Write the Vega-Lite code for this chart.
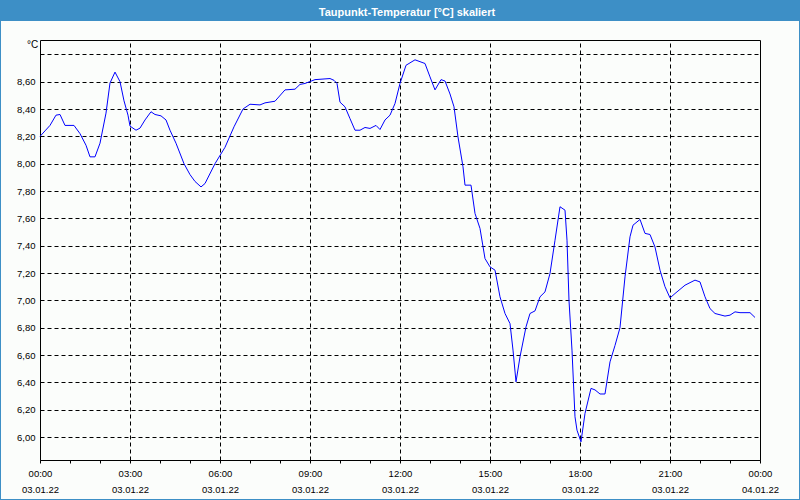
{
  "$schema": "https://vega.github.io/schema/vega-lite/v6.json",
  "width": 798,
  "height": 478,
  "autosize": {"type": "none"},
  "padding": {"left": 1, "right": 1, "top": 21, "bottom": 1},
  "background": "#3d8fc6",
  "title": {"text": "Taupunkt-Temperatur [°C] skaliert", "color": "#ffffff", "fontSize": 11, "font": "Liberation Sans", "fontWeight": "bold", "anchor": "middle", "offset": 3, "dx": 7},
  "config": {"view": {"fill": "#fbfdfb", "stroke": null}},
  "data": {"values": [
    {"h": 0, "v": 8.20}, {"h": 0.167, "v": 8.24}, {"h": 0.333, "v": 8.28}, {"h": 0.533, "v": 8.355},
    {"h": 0.667, "v": 8.36}, {"h": 0.833, "v": 8.28}, {"h": 1.133, "v": 8.28}, {"h": 1.333, "v": 8.22},
    {"h": 1.533, "v": 8.135}, {"h": 1.667, "v": 8.05}, {"h": 1.833, "v": 8.05}, {"h": 2.0, "v": 8.15},
    {"h": 2.2, "v": 8.37}, {"h": 2.333, "v": 8.59}, {"h": 2.5, "v": 8.67}, {"h": 2.667, "v": 8.60},
    {"h": 2.8, "v": 8.46}, {"h": 2.933, "v": 8.355}, {"h": 3.0, "v": 8.275}, {"h": 3.2, "v": 8.245},
    {"h": 3.333, "v": 8.26}, {"h": 3.5, "v": 8.32}, {"h": 3.7, "v": 8.38}, {"h": 3.833, "v": 8.36},
    {"h": 4.033, "v": 8.35}, {"h": 4.2, "v": 8.32}, {"h": 4.333, "v": 8.245}, {"h": 4.533, "v": 8.15},
    {"h": 4.8, "v": 8.00}, {"h": 5.0, "v": 7.92}, {"h": 5.167, "v": 7.87}, {"h": 5.367, "v": 7.83},
    {"h": 5.5, "v": 7.855}, {"h": 5.833, "v": 8.00}, {"h": 6.167, "v": 8.12}, {"h": 6.467, "v": 8.27},
    {"h": 6.767, "v": 8.40}, {"h": 7.0, "v": 8.435}, {"h": 7.333, "v": 8.43}, {"h": 7.5, "v": 8.445},
    {"h": 7.833, "v": 8.457}, {"h": 8.167, "v": 8.54}, {"h": 8.5, "v": 8.545}, {"h": 8.667, "v": 8.58},
    {"h": 8.833, "v": 8.587}, {"h": 9.167, "v": 8.615}, {"h": 9.667, "v": 8.623}, {"h": 9.8, "v": 8.61},
    {"h": 9.9, "v": 8.587}, {"h": 10.0, "v": 8.45}, {"h": 10.167, "v": 8.416}, {"h": 10.333, "v": 8.33},
    {"h": 10.5, "v": 8.245}, {"h": 10.667, "v": 8.245}, {"h": 10.833, "v": 8.265}, {"h": 11.0, "v": 8.258},
    {"h": 11.2, "v": 8.28}, {"h": 11.333, "v": 8.25}, {"h": 11.5, "v": 8.32}, {"h": 11.667, "v": 8.355},
    {"h": 11.833, "v": 8.44}, {"h": 12.0, "v": 8.587}, {"h": 12.2, "v": 8.72}, {"h": 12.5, "v": 8.76},
    {"h": 12.833, "v": 8.733}, {"h": 13.0, "v": 8.635}, {"h": 13.167, "v": 8.54}, {"h": 13.367, "v": 8.615},
    {"h": 13.5, "v": 8.605}, {"h": 13.667, "v": 8.51}, {"h": 13.8, "v": 8.416}, {"h": 13.933, "v": 8.196},
    {"h": 14.1, "v": 7.977}, {"h": 14.167, "v": 7.843}, {"h": 14.367, "v": 7.843}, {"h": 14.5, "v": 7.636},
    {"h": 14.667, "v": 7.526}, {"h": 14.833, "v": 7.306}, {"h": 15.0, "v": 7.245}, {"h": 15.167, "v": 7.221},
    {"h": 15.333, "v": 7.026}, {"h": 15.5, "v": 6.904}, {"h": 15.667, "v": 6.83}, {"h": 15.767, "v": 6.636},
    {"h": 15.867, "v": 6.404}, {"h": 16.0, "v": 6.587}, {"h": 16.2, "v": 6.806}, {"h": 16.333, "v": 6.904},
    {"h": 16.5, "v": 6.923}, {"h": 16.667, "v": 7.026}, {"h": 16.833, "v": 7.062}, {"h": 17.0, "v": 7.197},
    {"h": 17.167, "v": 7.44}, {"h": 17.333, "v": 7.685}, {"h": 17.5, "v": 7.66}, {"h": 17.567, "v": 7.44},
    {"h": 17.633, "v": 7.00}, {"h": 17.733, "v": 6.636}, {"h": 17.833, "v": 6.148}, {"h": 17.9, "v": 6.05},
    {"h": 18.033, "v": 5.965}, {"h": 18.167, "v": 6.173}, {"h": 18.367, "v": 6.356}, {"h": 18.5, "v": 6.345},
    {"h": 18.667, "v": 6.315}, {"h": 18.833, "v": 6.315}, {"h": 19.0, "v": 6.55}, {"h": 19.167, "v": 6.67},
    {"h": 19.333, "v": 6.80}, {"h": 19.5, "v": 7.172}, {"h": 19.667, "v": 7.465}, {"h": 19.767, "v": 7.55},
    {"h": 20.0, "v": 7.592}, {"h": 20.167, "v": 7.49}, {"h": 20.333, "v": 7.482}, {"h": 20.5, "v": 7.39},
    {"h": 20.667, "v": 7.221}, {"h": 20.833, "v": 7.10}, {"h": 21.0, "v": 7.018}, {"h": 21.167, "v": 7.05},
    {"h": 21.5, "v": 7.111}, {"h": 21.833, "v": 7.148}, {"h": 22.0, "v": 7.135}, {"h": 22.167, "v": 7.026},
    {"h": 22.333, "v": 6.94}, {"h": 22.5, "v": 6.904}, {"h": 22.833, "v": 6.885}, {"h": 23.0, "v": 6.892},
    {"h": 23.167, "v": 6.916}, {"h": 23.333, "v": 6.91}, {"h": 23.667, "v": 6.91}, {"h": 23.833, "v": 6.875}
  ]},
  "layer": [
    {
      "mark": {"type": "line", "opacity": 0},
      "encoding": {
        "x": {
          "field": "h", "type": "quantitative",
          "scale": {"domain": [0, 24], "range": [39, 759], "nice": false, "zero": false},
          "axis": {
            "orient": "top", "offset": -19, "title": null,
            "values": [0, 3, 6, 9, 12, 15, 18, 21, 24],
            "labels": false, "ticks": false, "domainColor": "black",
            "grid": true, "gridColor": "black", "gridDash": [4, 3], "gridWidth": 1
          }
        },
        "y": {
          "field": "v", "type": "quantitative",
          "scale": {"domain": [5.832, 8.905], "range": [439, 19], "nice": false, "zero": false},
          "axis": {"orient": "right", "offset": -39, "title": null, "labels": false, "ticks": false, "grid": false, "domainColor": "black"}
        }
      }
    },
    {
      "mark": {"type": "line", "color": "#0000ff", "strokeWidth": 1},
      "encoding": {
        "x": {
          "field": "h", "type": "quantitative",
          "scale": {"domain": [0, 24], "range": [39, 759], "nice": false, "zero": false},
          "axis": {
            "orient": "bottom", "offset": -39, "title": null,
            "values": [0, 1, 2, 3, 4, 5, 6, 7, 8, 9, 10, 11, 12, 13, 14, 15, 16, 17, 18, 19, 20, 21, 22, 23, 24],
            "domainColor": "black", "tickColor": "black", "tickSize": 3,
            "labelPadding": 5, "labelFontSize": 9.5, "labelColor": "black", "labelLineHeight": 16,
            "labelFlush": false, "labelOverlap": false, "labelBaseline": "top",
            "labelExpr": "datum.value % 3 == 0 ? [(datum.value == 24 ? '00' : (datum.value < 10 ? '0' + datum.value : '' + datum.value)) + ':00', datum.value == 24 ? '04.01.22' : '03.01.22'] : ''",
            "grid": false
          }
        },
        "y": {
          "field": "v", "type": "quantitative",
          "scale": {"domain": [5.832, 8.905], "range": [439, 19], "nice": false, "zero": false},
          "axis": {
            "orient": "left", "offset": -39,
            "values": [6.0, 6.2, 6.4, 6.6, 6.8, 7.0, 7.2, 7.4, 7.6, 7.8, 8.0, 8.2, 8.4, 8.6, 8.8],
            "ticks": false, "labelPadding": 5, "labelFontSize": 9.5, "labelColor": "black",
            "labelExpr": "datum.value > 8.7 ? '' : replace(format(datum.value, '.2f'), '.', ',')",
            "domainColor": "black",
            "grid": true, "gridColor": "black", "gridDash": [4, 3], "gridWidth": 1,
            "title": "°C", "titleAngle": 0, "titleX": -8, "titleY": 23, "titleAlign": "center", "titleBaseline": "middle",
            "titleFontWeight": "normal", "titleFontSize": 10, "titleColor": "black"
          }
        }
      }
    }
  ],
  "resolve": {"axis": {"x": "independent", "y": "independent"}}
}
